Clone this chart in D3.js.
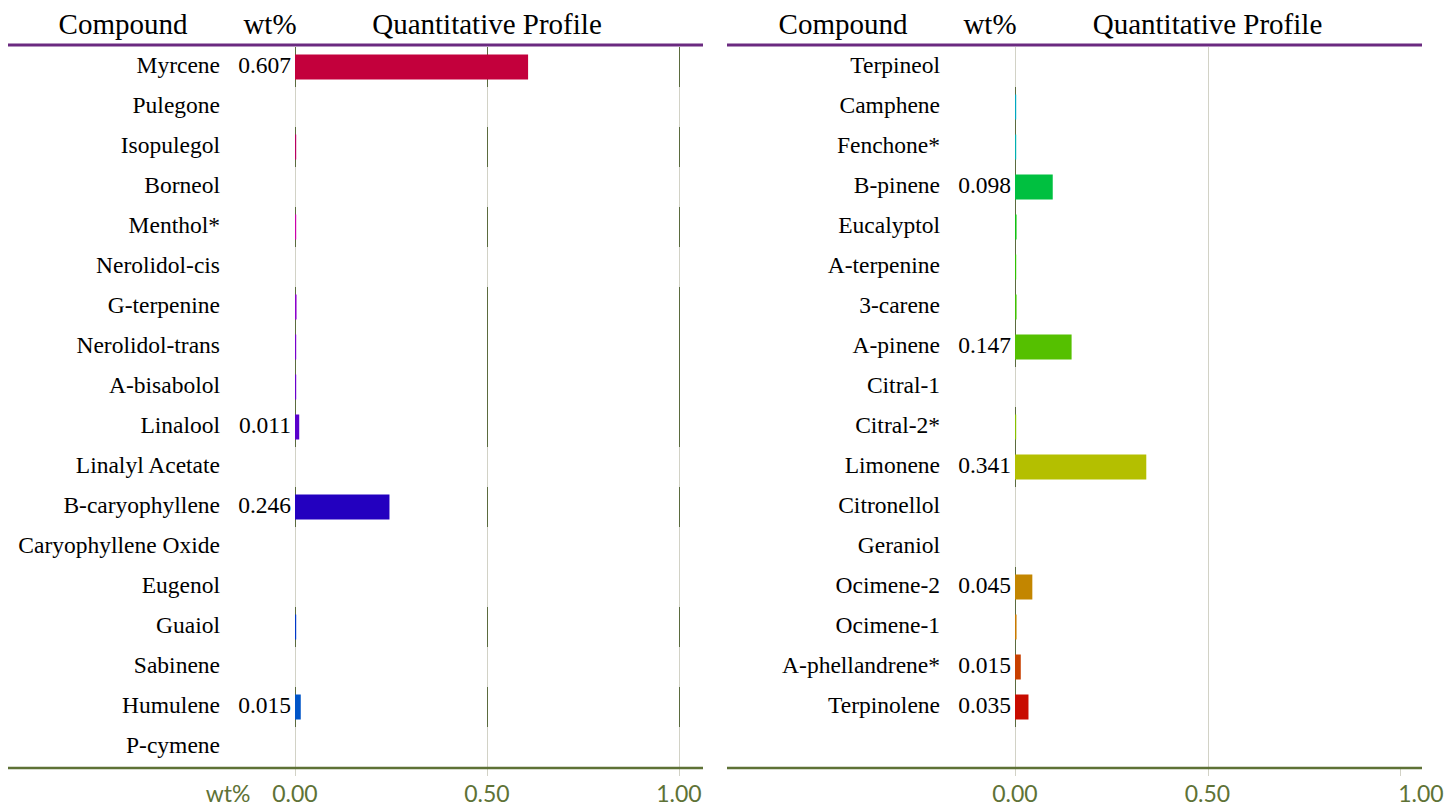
<!DOCTYPE html>
<html>
  <head>
    <meta charset="utf-8" />
    <title>Quantitative Profile</title>
    <script src="https://d3js.org/d3.v7.min.js"></script>
    <style>
      body { margin: 0; background: #fff; }
    </style>
  </head>
  <body>
    <svg id="chart" width="1447" height="808"></svg>
    <script>
      // datos
      const leftCompounds = ["Myrcene", "Pulegone", "Isopulegol", "Borneol", "Menthol*", "Nerolidol-cis", "G-terpenine", "Nerolidol-trans", "A-bisabolol", "Linalool", "Linalyl Acetate", "B-caryophyllene", "Caryophyllene Oxide", "Eugenol", "Guaiol", "Sabinene", "Humulene", "P-cymene"];
      const leftValues = [0.607, null, 0.001, null, 0.002, null, 0.004, 0.001, 0.001, 0.011, null, 0.246, null, null, 0.002, null, 0.015, null];
      const leftColors = ["#c3003c", "#c00050", "#b8005e", "#c00080", "#cc00aa", "#b000c0", "#8c00cc", "#7800cc", "#6a00cc", "#5a00cc", "#4400c8", "#2300bf", "#1a00c0", "#1020c0", "#0038c8", "#0048c8", "#0055c8", "#0070c8"];

      const rightCompounds = ["Terpineol", "Camphene", "Fenchone*", "B-pinene", "Eucalyptol", "A-terpenine", "3-carene", "A-pinene", "Citral-1", "Citral-2*", "Limonene", "Citronellol", "Geraniol", "Ocimene-2", "Ocimene-1", "A-phellandrene*", "Terpinolene"];
      const rightValues = [null, 0.001, 0.001, 0.098, 0.004, 0.001, 0.004, 0.147, null, 0.0005, 0.341, null, null, 0.045, 0.004, 0.015, 0.035];
      const rightColors = ["#0090c0", "#00a8c0", "#00b0b0", "#00c040", "#10c010", "#30c000", "#40c000", "#55c000", "#70c000", "#88c000", "#b4bf00", "#c0b000", "#c09800", "#c38600", "#c87a00", "#c84000", "#c80c00"];

      const tickValues = [0, 0.5, 1];
      const headerLabels = ["Compound", "wt%", "Quantitative Profile"];

      const svg = d3.select("#chart");
      const serif = "'Liberation Serif', 'Times New Roman', serif";
      const sans = "Lato, 'Open Sans', sans-serif";
      const purple = "#6b2a80";
      const olive = "#5e7236";
      const darkGrid = "#5b6b3e";
      const lightGrid = "#d2d2c6";

      // filas compartidas
      const nRows = Math.max(leftCompounds.length, rightCompounds.length);
      const yScale = d3.scaleBand().domain(d3.range(nRows)).range([47, 767]);
      const barPad = (yScale.bandwidth() - 25) / 2;

      const panels = [
        { names: leftCompounds, values: leftValues, colors: leftColors, x0: 8, x1: 703, zero: 295, one: 679, gridAt: [0, 0.5, 1], darkAt: [0, 0.5, 1], unitLabel: true, labelMax: 679 },
        { names: rightCompounds, values: rightValues, colors: rightColors, x0: 727, x1: 1422, zero: 1015, one: 1400, gridAt: [0, 0.5], darkAt: [0], unitLabel: false, labelMax: 1421 }
      ];

      panels.forEach((p) => {
        const g = svg.append("g");
        const xScale = d3.scaleLinear().domain([0, 1]).range([p.zero, p.one]);
        const rows = p.names.map((name, i) => ({ name, value: p.values[i], color: p.colors[i], i }));

        // cabecera
        const headerX = [xScale(0) - 172, xScale(0) - 25, xScale(0.5)];
        headerLabels.forEach((t, k) => {
          g.append("text")
            .attr("x", headerX[k])
            .attr("y", 34)
            .attr("text-anchor", "middle")
            .attr("font-family", serif)
            .attr("font-size", 29)
            .attr("fill", "#000")
            .text(t);
        });

        // líneas de rejilla claras
        g.selectAll(".grid")
          .data(p.gridAt)
          .join("line")
          .attr("x1", (d) => Math.round(xScale(d)) + 0.5)
          .attr("x2", (d) => Math.round(xScale(d)) + 0.5)
          .attr("y1", 47)
          .attr("y2", 776)
          .attr("stroke", lightGrid)
          .attr("stroke-width", 1);

        // ticks debajo del eje
        g.selectAll(".tick")
          .data(tickValues)
          .join("line")
          .attr("x1", (d) => Math.round(xScale(d)) + 0.5)
          .attr("x2", (d) => Math.round(xScale(d)) + 0.5)
          .attr("y1", 767)
          .attr("y2", 776)
          .attr("stroke", lightGrid)
          .attr("stroke-width", 1);

        // segmentos oscuros en filas con valor
        const withValue = rows.filter((d) => d.value !== null);
        withValue.forEach((d) => {
          p.darkAt.forEach((t) => {
            g.append("line")
              .attr("x1", Math.round(xScale(t)) + 0.5)
              .attr("x2", Math.round(xScale(t)) + 0.5)
              .attr("y1", yScale(d.i))
              .attr("y2", yScale(d.i) + yScale.bandwidth())
              .attr("stroke", darkGrid)
              .attr("stroke-width", 1);
          });
        });

        // barras
        g.selectAll(".bar")
          .data(withValue)
          .join("rect")
          .attr("x", xScale(0))
          .attr("y", (d) => yScale(d.i) + barPad)
          .attr("width", (d) => Math.max(1.2, xScale(d.value) - xScale(0)))
          .attr("height", 25)
          .attr("fill", (d) => d.color);

        // nombres de compuestos
        g.selectAll(".name")
          .data(rows)
          .join("text")
          .attr("x", xScale(0) - 75)
          .attr("y", (d) => yScale(d.i) + yScale.bandwidth() / 2)
          .attr("dy", "0.27em")
          .attr("text-anchor", "end")
          .attr("font-family", serif)
          .attr("font-size", 23.5)
          .attr("fill", "#000")
          .text((d) => d.name);

        // valores
        g.selectAll(".val")
          .data(withValue.filter((d) => d.value >= 0.01))
          .join("text")
          .attr("x", xScale(0) - 4)
          .attr("y", (d) => yScale(d.i) + yScale.bandwidth() / 2)
          .attr("dy", "0.27em")
          .attr("text-anchor", "end")
          .attr("font-family", serif)
          .attr("font-size", 23.5)
          .attr("fill", "#000")
          .text((d) => d3.format(".3f")(d.value));

        // línea superior y eje inferior
        g.append("line")
          .attr("x1", p.x0).attr("x2", p.x1)
          .attr("y1", 45).attr("y2", 45)
          .attr("stroke", purple)
          .attr("stroke-width", 3);
        g.append("line")
          .attr("x1", p.x0).attr("x2", p.x1)
          .attr("y1", 768).attr("y2", 768)
          .attr("stroke", olive)
          .attr("stroke-width", 2.5);

        // etiquetas del eje
        g.selectAll(".tl")
          .data(tickValues)
          .join("text")
          .attr("x", (d) => (d === 1 ? p.labelMax : xScale(d)))
          .attr("y", 795)
          .attr("dy", "0.32em")
          .attr("text-anchor", "middle")
          .attr("font-family", sans)
          .attr("font-size", 23)
          .attr("fill", olive)
          .text((d) => d3.format(".2f")(d));

        if (p.unitLabel) {
          g.append("text")
            .attr("x", xScale(0) - 67)
            .attr("y", 795)
            .attr("dy", "0.32em")
            .attr("text-anchor", "middle")
            .attr("font-family", sans)
            .attr("font-size", 23)
            .attr("fill", olive)
            .text("wt%");
        }
      });
    </script>
  </body>
</html>
